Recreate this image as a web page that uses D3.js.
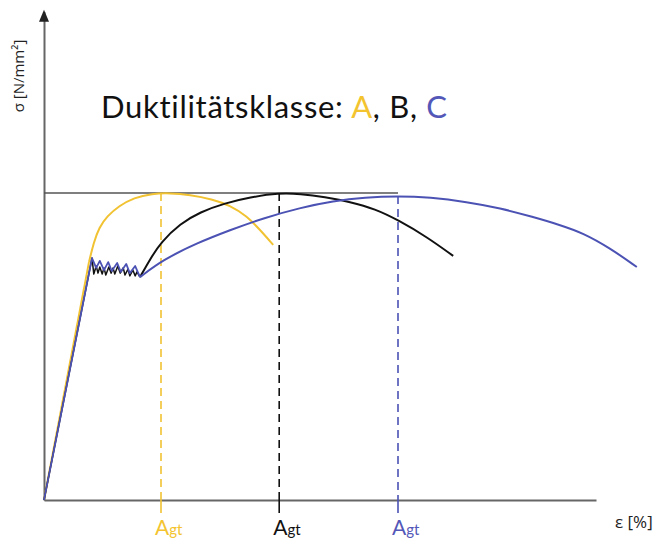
<!DOCTYPE html>
<html>
<head>
<meta charset="utf-8">
<script src="https://cdn.jsdelivr.net/npm/d3@7"></script>
<style>
  body { margin: 0; background: #fff; }
  .axis path { stroke: #666; stroke-width: 2; }
</style>
</head>
<body>
<div id="chart"></div>
<script>
// Data - relative strain (x) and stress (y, 100 = Rm)
const elasticEnd = [8.0, 78.8]

const yellowElastic = [[0, 0], [7.5, 77.5]]
const yellowCurve = [[7.5, 77.5], [8.3, 84], [9.2, 88.8], [10.5, 92.4], [12.5, 95.8], [15, 98.5],
  [18, 99.8], [21, 100], [24.3, 99.4], [28, 98], [31, 96], [33.8, 92.5], [36, 88], [38.2, 83.1]]

const blackYield = [[0, 0], elasticEnd, [8.3, 73.6], [8.7, 76.2], [9.0, 73.9], [9.3, 75.9], [9.7, 73.6],
  [10.0, 75.6], [10.3, 73.3], [10.8, 75.9], [11.2, 73.9], [11.5, 75.6], [11.8, 73.6], [12.3, 76.2],
  [12.7, 73.9], [13.2, 75.6], [13.5, 73.3], [14.0, 75.2], [14.3, 73.0], [14.8, 74.9], [15.2, 73.0],
  [15.5, 74.3], [16.0, 72.6]]
const blackCurve = [[16, 72.6], [17.7, 78.5], [19.5, 84.0], [22.7, 90.0], [26, 93.8], [30.2, 96.7],
  [34.3, 98.6], [39.2, 100], [42.7, 99.7], [46.8, 98.7], [51, 97.1], [55.2, 94.8], [59, 91.2],
  [63.8, 85.7], [68.2, 79.5]]

const blueYield = [[0, 0], elasticEnd, [8.7, 75.6], [9.3, 77.9], [10.0, 74.9], [10.7, 77.5], [11.3, 74.6],
  [12.2, 77.2], [12.8, 74.3], [13.7, 76.9], [14.3, 73.9], [15.2, 76.2], [16.0, 72.6]]
const blueCurve = [[16, 72.6], [19.8, 78.2], [25.5, 83.7], [31, 87.9], [36.5, 91.8], [42.7, 95.2],
  [48.2, 97.4], [53.5, 98.6], [59, 99.0], [64.3, 98.6], [70.5, 97.1], [76, 95.1], [81.5, 92.2],
  [86, 89.6], [89.8, 87.0], [94.3, 82.1], [98.8, 75.9]]

// Agt (strain at max. force) per class
const classes = ['A', 'B', 'C']
const agtStrain = [19.5, 39.2, 59.0]
const agtStress = [100, 100, 99.0]

const rm = 100
const xAxisMax = 92
const yAxisMax = 159

const colors = { A: '#f1c232', B: '#111111', C: '#4b52b3' }
const labelColors = { A: '#f3c430', B: '#111111', C: '#5358b8' }

function draw() {
  let dimensions = {
    width: 661,
    height: 540
  }

  const svg = d3.select('#chart')
    .append('svg')
    .attr('width', dimensions.width)
    .attr('height', dimensions.height)

  // Scales
  const xScale = d3.scaleLinear()
    .domain([0, 100])
    .range([44, 644])

  const yScale = d3.scaleLinear()
    .domain([0, 100])
    .range([500, 193])

  // Axes (no ticks on the original)
  const xAxisScale = xScale.copy().domain([0, xAxisMax]).range([xScale(0), xScale(xAxisMax)])
  const yAxisScale = yScale.copy().domain([0, yAxisMax]).range([yScale(0), yScale(yAxisMax)])

  svg.append('g')
    .classed('axis', true)
    .attr('transform', `translate(0, ${yScale(0)})`)
    .call(d3.axisBottom(xAxisScale).tickValues([]).tickSizeOuter(0))

  svg.append('g')
    .classed('axis', true)
    .attr('transform', `translate(${xScale(0)}, 0)`)
    .call(d3.axisLeft(yAxisScale).tickValues([]).tickSizeOuter(0))

  // arrow head on stress axis
  const tipX = xScale(0)
  const tipY = yAxisScale(yAxisMax)
  svg.append('path')
    .attr('d', `M${tipX},${tipY - 2} L${tipX - 5},${tipY + 10} L${tipX + 5},${tipY + 10} Z`)
    .attr('fill', '#222')

  // Rm reference line
  svg.append('line')
    .attr('x1', xScale(0))
    .attr('x2', xScale(agtStrain[2]))
    .attr('y1', yScale(rm))
    .attr('y2', yScale(rm))
    .attr('stroke', '#555')
    .attr('stroke-width', 1.5)

  // Agt markers
  classes.forEach((c, i) => {
    const x = xScale(agtStrain[i])
    svg.append('line')
      .attr('x1', x).attr('x2', x)
      .attr('y1', yScale(agtStress[i]))
      .attr('y2', yScale(0))
      .attr('stroke', colors[c])
      .attr('stroke-width', 1.6)
      .attr('stroke-dasharray', '8,5')
    svg.append('line')
      .attr('x1', x).attr('x2', x)
      .attr('y1', yScale(0))
      .attr('y2', yScale(0) + 13)
      .attr('stroke', colors[c])
      .attr('stroke-width', 1.6)

    const label = svg.append('text')
      .attr('x', x - 6)
      .attr('y', 535)
      .attr('fill', labelColors[c])
      .style('font-family', 'Lato, sans-serif')
    label.append('tspan').style('font-size', '21px').text('A')
    label.append('tspan').style('font-size', '15px').text('gt')
  })

  // Curves
  const lineLinear = d3.line()
    .x(d => xScale(d[0]))
    .y(d => yScale(d[1]))
  const lineSmooth = d3.line()
    .x(d => xScale(d[0]))
    .y(d => yScale(d[1]))
    .curve(d3.curveBasis)

  const drawPath = (data, gen, color, w) => svg.append('path')
    .datum(data)
    .attr('d', gen)
    .attr('fill', 'none')
    .attr('stroke', color)
    .attr('stroke-width', w)
    .attr('stroke-linejoin', 'round')

  drawPath(yellowElastic, lineLinear, colors.A, 2)
  drawPath(yellowCurve, lineSmooth, colors.A, 2)
  drawPath(blackCurve, lineSmooth, colors.B, 2)
  drawPath(blackYield, lineLinear, colors.B, 1.5)
  drawPath(blueCurve, lineSmooth, colors.C, 2)
  drawPath(blueYield, lineLinear, colors.C, 1.8)

  // Titles
  const title = svg.append('text')
    .attr('x', 101)
    .attr('y', 118)
    .style('font-family', 'Lato, sans-serif')
    .style('font-size', '31px')
    .style('letter-spacing', '0.7px')
    .attr('fill', '#111')
  title.append('tspan').text('Duktilitätsklasse: ')
  title.append('tspan').attr('fill', labelColors.A).text('A')
  title.append('tspan').text(', B, ')
  title.append('tspan').attr('fill', labelColors.C).text('C')

  svg.append('text')
    .attr('transform', 'translate(24, 76) rotate(-90)')
    .attr('text-anchor', 'middle')
    .style('font-family', '"Open Sans", sans-serif')
    .style('font-size', '15px')
    .attr('fill', '#222')
    .text('σ [N/mm²]')

  svg.append('text')
    .attr('x', 615)
    .attr('y', 528)
    .style('font-family', '"Open Sans", sans-serif')
    .style('font-size', '17px')
    .attr('fill', '#222')
    .text('ε [%]')
}

draw()
</script>
</body>
</html>
